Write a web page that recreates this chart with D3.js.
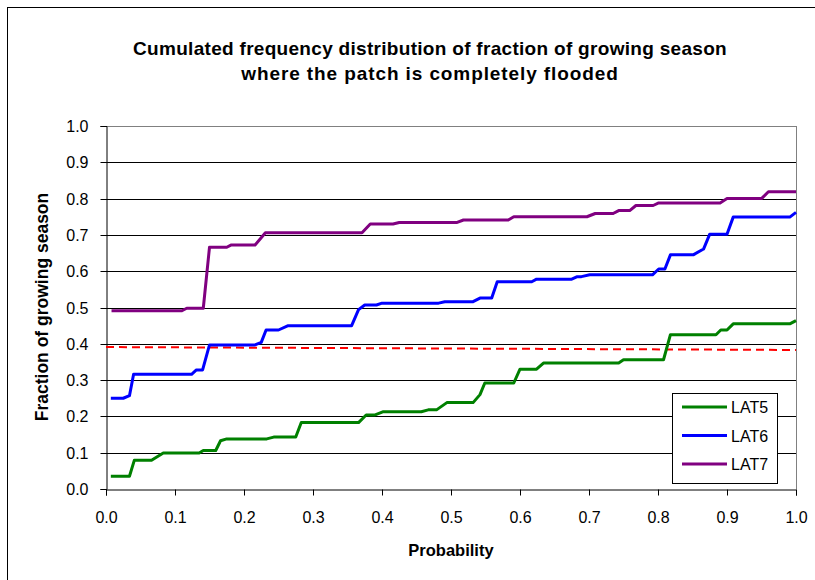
<!DOCTYPE html>
<html><head><meta charset="utf-8">
<script src="https://cdn.jsdelivr.net/npm/d3@7"></script>
<style>body{margin:0;background:#fff}svg{display:block;font-family:"Liberation Sans",Arial,sans-serif}</style>
</head><body><svg id="c" width="815" height="580"></svg>
<script>
const titleLines = ["Cumulated frequency distribution of fraction of growing season", "where the patch is completely flooded"];
const xTitle = "Probability";
const yTitle = "Fraction of growing season";
const xTicks = [0,0.1,0.2,0.3,0.4,0.5,0.6,0.7,0.8,0.9,1.0];
const yTicks = [0,0.1,0.2,0.3,0.4,0.5,0.6,0.7,0.8,0.9,1.0];
const seriesNames = ["LAT5","LAT6","LAT7"];
const seriesColors = ["#008000","#0000ff","#800080"];

const lat5X = [0.007,0.034,0.041,0.066,0.083,0.135,0.141,0.159,0.166,0.175,0.233,0.243,0.275,0.283,0.366,0.377,0.390,0.402,0.457,0.467,0.479,0.494,0.532,0.542,0.549,0.591,0.600,0.624,0.634,0.743,0.750,0.808,0.818,0.884,0.891,0.900,0.909,0.991,1.0];
const lat5Y = [0.035,0.035,0.079,0.079,0.099,0.099,0.106,0.106,0.133,0.138,0.138,0.143,0.143,0.183,0.183,0.204,0.204,0.213,0.213,0.218,0.218,0.238,0.238,0.260,0.292,0.292,0.330,0.330,0.347,0.347,0.356,0.356,0.425,0.425,0.438,0.438,0.455,0.455,0.464];

const lat6X = [0.007,0.025,0.034,0.040,0.124,0.131,0.140,0.150,0.216,0.225,0.232,0.250,0.264,0.356,0.366,0.375,0.392,0.400,0.482,0.491,0.532,0.542,0.559,0.567,0.617,0.624,0.675,0.683,0.689,0.701,0.792,0.801,0.810,0.818,0.851,0.866,0.875,0.900,0.909,0.991,1.0];
const lat6Y = [0.250,0.250,0.257,0.316,0.316,0.328,0.328,0.397,0.397,0.404,0.438,0.438,0.450,0.450,0.494,0.507,0.507,0.512,0.512,0.516,0.516,0.526,0.526,0.571,0.571,0.578,0.578,0.585,0.585,0.590,0.590,0.606,0.606,0.645,0.645,0.661,0.702,0.702,0.749,0.749,0.762];

const lat7X = [0.008,0.110,0.117,0.141,0.150,0.175,0.181,0.216,0.231,0.371,0.383,0.416,0.425,0.508,0.518,0.583,0.591,0.697,0.709,0.735,0.743,0.759,0.768,0.793,0.801,0.890,0.900,0.950,0.960,1.0];
const lat7Y = [0.491,0.491,0.498,0.498,0.666,0.666,0.672,0.672,0.706,0.706,0.730,0.730,0.734,0.734,0.741,0.741,0.750,0.750,0.759,0.759,0.767,0.767,0.781,0.781,0.788,0.788,0.800,0.800,0.819,0.819];

const thresholdX = [0, 1.0];
const thresholdY = [0.391, 0.383];

const seriesX = [lat5X, lat6X, lat7X];
const seriesY = [lat5Y, lat6Y, lat7Y];

const svg = d3.select("#c");
const L = 106, R = 796, T = 126, B = 489;
const x = d3.scaleLinear().domain([0,1]).range([L,R]);
const y = d3.scaleLinear().domain([0,1]).range([B,T]);

// outer border
svg.append("rect").attr("x",7.5).attr("y",7.5).attr("width",840).attr("height",600)
  .attr("fill","none").attr("stroke","#000").attr("stroke-width",1);

// title
svg.append("g").selectAll("text").data(titleLines).join("text")
  .attr("x",430).attr("y",(d,i)=>55+i*25).attr("text-anchor","middle")
  .attr("font-size",19).attr("letter-spacing",(d,i)=>i===0?0.3:0.9).attr("font-weight","bold").text(d=>d);

// gridlines
svg.append("g").selectAll("line").data(yTicks.slice(1)).join("line")
  .attr("x1",L).attr("x2",R).attr("y1",d=>Math.round(y(d))+0.5).attr("y2",d=>Math.round(y(d))+0.5)
  .attr("stroke","#000").attr("stroke-width",1);

// plot border right/top grey
svg.append("line").attr("x1",R+0.5).attr("x2",R+0.5).attr("y1",T).attr("y2",B).attr("stroke","#808080");
svg.append("line").attr("x1",L).attr("x2",R).attr("y1",T+0.5).attr("y2",T+0.5).attr("stroke","#808080");

// axes
const xAxis = d3.axisBottom(x).tickValues(xTicks).tickFormat(d3.format(".1f")).tickSize(6).tickPadding(16);
const gx = svg.append("g").attr("transform",`translate(0,${Math.round(B)+0.5})`).call(xAxis);
const yAxis = d3.axisLeft(y).tickValues(yTicks).tickFormat(d3.format(".1f")).tickSize(6).tickPadding(12);
const gy = svg.append("g").attr("transform",`translate(${L+0.5},0)`).call(yAxis);
[gx,gy].forEach(g=>{
  g.select(".domain").attr("stroke","#000");
  g.selectAll(".tick line").attr("stroke","#000");
  g.selectAll("text").attr("font-size",16).attr("fill","#000").attr("font-family","'Liberation Sans',Arial,sans-serif");
});
gy.selectAll(".tick").attr("transform",d=>`translate(0,${Math.round(y(d))+0.5})`);

// axis titles
svg.append("text").attr("x",451).attr("y",556).attr("text-anchor","middle")
  .attr("font-size",16.5).attr("font-weight","bold").text(xTitle);
svg.append("text").attr("transform","translate(48,307) rotate(-90)").attr("text-anchor","middle")
  .attr("font-size",17.5).attr("font-weight","bold").text(yTitle);

// threshold line
const line = d3.line().x(d=>x(d[0])).y(d=>y(d[1]));
svg.append("path").datum(thresholdX.map((v,i)=>[v,thresholdY[i]]))
  .attr("d",line).attr("fill","none").attr("stroke","#ff0000").attr("stroke-width",2)
  .attr("stroke-dasharray","8,5");

// series
seriesNames.forEach((n,i)=>{
  svg.append("path").datum(seriesX[i].map((v,j)=>[v,seriesY[i][j]]))
    .attr("d",line).attr("fill","none").attr("stroke",seriesColors[i]).attr("stroke-width",3)
    .attr("stroke-linejoin","round");
});

// legend
const lg = svg.append("g");
lg.append("rect").attr("x",672.5).attr("y",393.5).attr("width",105).attr("height",90)
  .attr("fill","#fff").attr("stroke","#000");
seriesNames.forEach((n,i)=>{
  const yy = 407 + i*28.5;
  lg.append("line").attr("x1",682).attr("x2",727).attr("y1",yy).attr("y2",yy)
    .attr("stroke",seriesColors[i]).attr("stroke-width",3);
  lg.append("text").attr("x",731).attr("y",yy+6).attr("font-size",16).text(n);
});
</script></body></html>
